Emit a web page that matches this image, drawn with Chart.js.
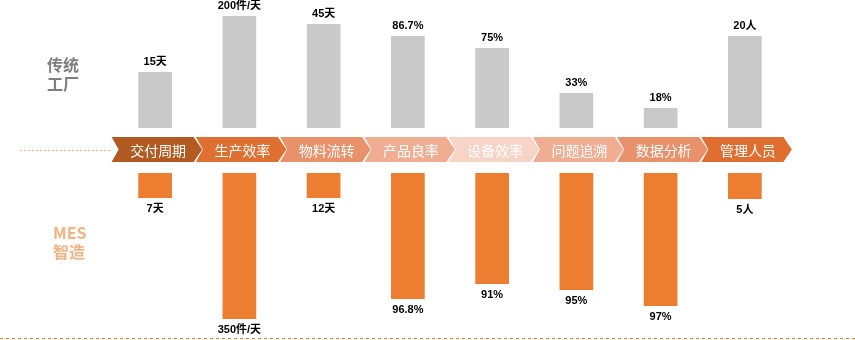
<!DOCTYPE html>
<html lang="zh">
<head>
    <meta charset="UTF-8">
    <title>传统工厂 vs MES智造</title>
    <script src="https://cdn.jsdelivr.net/npm/chart.js"></script>
    <style>
        body {
            margin: 0;
            padding: 0;
            background-color: #ffffff;
            overflow: hidden;
        }
        #wrap {
            position: relative;
            width: 855px;
            height: 340px;
        }
        .side {
            position: absolute;
            font-family: "Noto Sans CJK SC", "Liberation Sans", sans-serif;
            font-weight: bold;
            font-size: 16px;
            line-height: 19px;
        }
        #oldLabel { left: 47px; top: 55px; color: #7f7f7f; }
        #mesLabel { left: 53px; top: 223px; color: #f4b183; }
    </style>
</head>
<body>
<div id="wrap">
    <canvas id="chart" width="855" height="340"></canvas>
    <div class="side" id="oldLabel">传统<br>工厂</div>
    <div class="side" id="mesLabel">MES<br>智造</div>
</div>

<script>
    const categories = ['交付周期', '生产效率', '物料流转', '产品良率', '设备效率', '问题追溯', '数据分析', '管理人员'];
    const traditionalLabels = ['15天', '200件/天', '45天', '86.7%', '75%', '33%', '18%', '20人'];
    const mesLabels = ['7天', '350件/天', '12天', '96.8%', '91%', '95%', '97%', '5人'];
    // bar heights as drawn in the picture (not to scale with the values)
    const traditionalHeights = [56, 112, 104, 92, 80, 35, 20, 92];
    const mesHeights = [25, 146, 25, 126, 111, 117, 133, 26];
    const arrowColors = ['#b15b22', '#e07032', '#e8916a', '#f1ad92', '#f8d4c7', '#f1ad92', '#e8916a', '#df6e30'];

    const GAP = 45; // space between the two rows, holds the arrow band

    const bandPlugin = {
        id: 'band',
        afterDatasetsDraw(chart) {
            const ctx = chart.ctx;
            const x = chart.scales.x, y = chart.scales.y;
            const top = y.getPixelForValue(-9), bot = y.getPixelForValue(-34);
            const mid = (top + bot) / 2;
            ctx.save();

            // dashed lines
            ctx.strokeStyle = '#f4b183';
            ctx.lineWidth = 1;
            ctx.setLineDash([2, 2]);
            ctx.beginPath();
            ctx.moveTo(20, Math.round(mid) + 0.5);
            ctx.lineTo(110, Math.round(mid) + 0.5);
            ctx.stroke();
            ctx.strokeStyle = '#ed7d31';
            ctx.setLineDash([3, 3]);
            ctx.beginPath();
            ctx.moveTo(0, 338.5);
            ctx.lineTo(855, 338.5);
            ctx.stroke();
            ctx.setLineDash([]);

            // chevrons
            categories.forEach((name, i) => {
                const c = x.getPixelForValue(i);
                const left = c - 43.5, corner = c + 38.5, tip = c + 47, notch = 7;
                ctx.fillStyle = arrowColors[i];
                ctx.beginPath();
                ctx.moveTo(left, top);
                ctx.lineTo(corner, top);
                ctx.lineTo(tip, mid);
                ctx.lineTo(corner, bot);
                ctx.lineTo(left, bot);
                ctx.lineTo(left + notch, mid);
                ctx.closePath();
                ctx.fill();

                ctx.fillStyle = '#ffffff';
                ctx.font = '14px "Noto Sans CJK SC", sans-serif';
                ctx.textAlign = 'center';
                ctx.textBaseline = 'middle';
                ctx.fillText(name, c + 3, mid + 1);
            });

            // value labels
            ctx.fillStyle = '#000000';
            ctx.font = 'bold 11px "Liberation Sans", "Noto Sans CJK SC", sans-serif';
            ctx.textAlign = 'center';
            ctx.textBaseline = 'middle';
            chart.getDatasetMeta(0).data.forEach((bar, i) => {
                ctx.fillText(traditionalLabels[i], bar.x, bar.y - 10);
            });
            chart.getDatasetMeta(1).data.forEach((bar, i) => {
                ctx.fillText(mesLabels[i], bar.x, bar.y + 11);
            });
            ctx.restore();
        }
    };

    const ctx = document.getElementById('chart').getContext('2d');
    new Chart(ctx, {
        type: 'bar',
        data: {
            labels: categories,
            datasets: [
                {
                    label: '传统工厂',
                    data: traditionalHeights.map(h => [0, h]),
                    backgroundColor: '#c9c9c9',
                    grouped: false,
                    barPercentage: 0.4,
                    categoryPercentage: 1
                },
                {
                    label: 'MES智造',
                    data: mesHeights.map(h => [-GAP, -GAP - h]),
                    backgroundColor: '#ed7d31',
                    grouped: false,
                    barPercentage: 0.4,
                    categoryPercentage: 1
                }
            ]
        },
        options: {
            responsive: false,
            animation: false,
            layout: { padding: { left: 113, right: 68, top: 0, bottom: 0 } },
            plugins: { legend: { display: false }, tooltip: { enabled: false } },
            scales: {
                x: { display: false },
                y: { display: false, min: -212, max: 128 }
            }
        },
        plugins: [bandPlugin]
    });
</script>
</body>
</html>
